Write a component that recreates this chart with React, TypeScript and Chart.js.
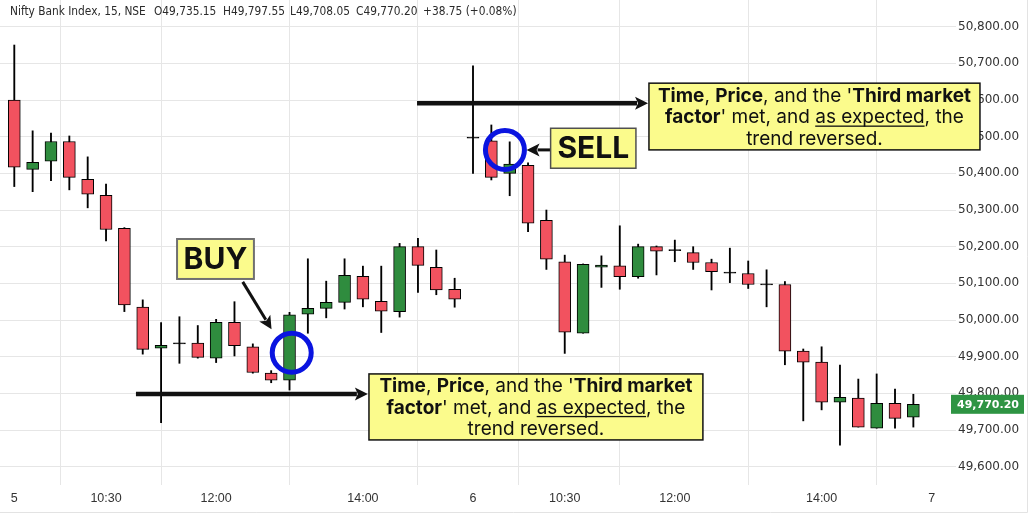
import { useEffect, useRef } from 'react';
import { Chart, registerables } from 'chart.js';

Chart.register(...registerables);

// ---- DATA (15-min candles, Nifty Bank Index) ----
const opens = [
  50600, 50411, 50433, 50487, 50384, 50340, 50250, 50035, 49923, 49938,
  49937, 49896, 49994, 49927, 49855, 49836, 50016, 50032, 50048, 50119,
  50051, 50023, 50200, 50144, 50084,
  50499, 50489, 50400, 50422, 50272, 50159, 49964, 50144, 50148, 50118,
  50200, 50192, 50184, 50157, 50131, 50127, 50099, 50097, 49915, 49885,
  49776, 49787, 49705, 49773, 49735.15,
];
const highs = [
  50750, 50516, 50510, 50502, 50445, 50371, 50252, 50055, 49993, 50009,
  49985, 50002, 50050, 49935, 49862, 50021, 50167, 50106, 50167, 50147,
  50147, 50209, 50223, 50191, 50114,
  50693, 50532, 50486, 50429, 50300, 50177, 50153, 50175, 50257, 50207,
  50202, 50218, 50200, 50166, 50196, 50161, 50137, 50105, 49921, 49927,
  49877, 49839, 49853, 49812, 49797.55,
];
const lows = [
  50364, 50350, 50380, 50355, 50306, 50216, 50023, 49907, 49720, 49882,
  49896, 49884, 49902, 49855, 49829, 49809, 49964, 50006, 50030, 50036,
  49966, 50008, 50075, 50069, 50035,
  50400, 50382, 50339, 50241, 50138, 49909, 49964, 50089, 50084, 50114,
  50123, 50159, 50138, 50082, 50102, 50086, 50036, 49878, 49725, 49755,
  49659, 49708, 49705, 49705, 49708.05,
];
const closes = [
  50417, 50430, 50487, 50389, 50343, 50247, 50041, 49920, 49931, 49935,
  49898, 49994, 49930, 49857, 49836, 50014, 50032, 50048, 50122, 50057,
  50024, 50200, 50149, 50082, 50057,
  50496, 50389, 50425, 50264, 50166, 49967, 50152, 50150, 50118, 50200,
  50188, 50189, 50157, 50132, 50128, 50097, 50096, 49915, 49885, 49776,
  49789, 49708, 49773, 49732, 49770.20,
];

const xTickIndex = [0, 5, 11, 19, 25, 30, 36, 44, 50];
const xTickLabels = ['5', '10:30', '12:00', '14:00', '6', '10:30', '12:00', '14:00', '7'];
const yTickValues = [49600, 49700, 49800, 49900, 50000, 50100, 50200, 50300, 50400, 50500, 50600, 50700, 50800];

const headerParts: [string, number][] = [
  ['Nifty Bank Index, 15, NSE', 10],
  ['O49,735.15', 154],
  ['H49,797.55', 223],
  ['L49,708.05', 290],
  ['C49,770.20', 356],
  ['+38.75 (+0.08%)', 423],
];

type Run = { t: string; b?: boolean; u?: boolean };
const noteLines: Run[][] = [
  [{ t: 'Time', b: true }, { t: ', ' }, { t: 'Price', b: true }, { t: ', and the \'' }, { t: 'Third market', b: true }],
  [{ t: 'factor', b: true }, { t: '\' met, and ' }, { t: 'as expected', u: true }, { t: ', the' }],
  [{ t: 'trend reversed.' }],
];

// annotation anchors in data coordinates (x = candle index, y = price)
const textBoxes = [
  { x0: 8.87, x1: 13.06, y0: 50221, y1: 50112, lines: [[{ t: 'BUY', b: true }]] as Run[][], size: 30, border: '#707070', bw: 2 },
  { x0: 29.23, x1: 33.88, y0: 50523, y1: 50414, lines: [[{ t: 'SELL', b: true }]] as Run[][], size: 30, border: '#505050', bw: 1.5 },
  { x0: 19.33, x1: 37.53, y0: 49853, y1: 49673, lines: noteLines, size: 19, border: '#111111', bw: 1.5 },
  { x0: 34.59, x1: 52.63, y0: 50646, y1: 50464, lines: noteLines, size: 19, border: '#111111', bw: 1.5 },
];
const arrows = [
  { xa: 12.45, ya: 50104, xb: 14.02, yb: 49975, w: 3 },
  { xa: 6.63, ya: 49798, xb: 19.27, yb: 49798, w: 4.5 },
  { xa: 21.95, ya: 50591, xb: 34.54, yb: 50591, w: 4.5 },
  { xa: 29.25, ya: 50464, xb: 27.92, yb: 50464, w: 3 },
];
const circles = [
  { x: 15.12, y: 49911 },
  { x: 26.74, y: 50464 },
];

const FONT_UI = '"Liberation Sans", Arial, sans-serif';
const FONT_AXIS = '"DejaVu Sans", Verdana, sans-serif';
const FONT_HEAD = '"DejaVu Sans Condensed", "DejaVu Sans", sans-serif';
const FONT_NOTE = 'Inter, "Open Sans", sans-serif';

function fontFor(b: boolean | undefined, size: number) {
  return `${b ? 'bold' : 'normal'} ${size}px ${FONT_NOTE}`;
}

const overlayPlugin = {
  id: 'overlay',
  afterDraw(chart: any) {
    const ctx: CanvasRenderingContext2D = chart.ctx;
    const xs = chart.scales.x;
    const ys = chart.scales.y;
    const px = (v: number) => xs.getPixelForValue(v);
    const py = (v: number) => ys.getPixelForValue(v);
    ctx.save();

    // header (font size fitted so the symbol text spans the same width as the reference)
    ctx.font = `12px ${FONT_HEAD}`;
    const w12 = ctx.measureText(headerParts[0][0]).width;
    const hs = Math.min(12.5, (12 * 136) / w12);
    ctx.fillStyle = '#2a2a2a';
    ctx.font = `${hs}px ${FONT_HEAD}`;
    ctx.textBaseline = 'middle';
    ctx.textAlign = 'left';
    headerParts.forEach(([t, x]) => ctx.fillText(t, x, 12));

    // last price label
    const lastY = py(closes[closes.length - 1]);
    ctx.fillStyle = '#2e9443';
    ctx.fillRect(951, lastY - 9.5, 73, 19);
    ctx.fillStyle = '#ffffff';
    ctx.font = `bold 11px ${FONT_AXIS}`;
    ctx.fillText('49,770.20', 957, lastY + 0.5);

    // arrows
    arrows.forEach((a) => {
      const x0 = px(a.xa), y0 = py(a.ya), x1 = px(a.xb), y1 = py(a.yb);
      const ang = Math.atan2(y1 - y0, x1 - x0);
      const L = 13, H = 6.5;
      const bx = x1 - Math.cos(ang) * L, by = y1 - Math.sin(ang) * L;
      ctx.strokeStyle = '#111';
      ctx.lineWidth = a.w;
      ctx.beginPath();
      ctx.moveTo(x0, y0);
      ctx.lineTo(bx + Math.cos(ang) * 2, by + Math.sin(ang) * 2);
      ctx.stroke();
      ctx.fillStyle = '#111';
      ctx.beginPath();
      ctx.moveTo(x1, y1);
      ctx.lineTo(bx - Math.sin(ang) * H, by + Math.cos(ang) * H);
      ctx.lineTo(bx + Math.cos(ang) * 3, by + Math.sin(ang) * 3);
      ctx.lineTo(bx + Math.sin(ang) * H, by - Math.cos(ang) * H);
      ctx.closePath();
      ctx.fill();
    });

    // circles
    circles.forEach((c) => {
      ctx.strokeStyle = '#0a14e0';
      ctx.lineWidth = 5;
      ctx.beginPath();
      ctx.arc(px(c.x), py(c.y), 19.5, 0, Math.PI * 2);
      ctx.stroke();
    });

    // text boxes
    textBoxes.forEach((bx) => {
      const l = px(bx.x0), r = px(bx.x1), t = py(bx.y0), b = py(bx.y1);
      ctx.fillStyle = '#fbfb8c';
      ctx.fillRect(l, t, r - l, b - t);
      ctx.strokeStyle = bx.border;
      ctx.lineWidth = bx.bw;
      ctx.strokeRect(l, t, r - l, b - t);
      const n = bx.lines.length;
      const lineH = n > 1 ? 21.5 : b - t;
      const top = (t + b) / 2 - (lineH * n) / 2;
      const cx = (l + r) / 2;
      ctx.fillStyle = '#111';
      ctx.textBaseline = 'middle';
      bx.lines.forEach((runs, li) => {
        const widths = runs.map((rn) => {
          ctx.font = fontFor(rn.b, bx.size);
          return ctx.measureText(rn.t).width;
        });
        const total = widths.reduce((s, w) => s + w, 0);
        let x = cx - total / 2;
        const y = top + lineH * (li + 0.5) + 1;
        runs.forEach((rn, i) => {
          ctx.font = fontFor(rn.b, bx.size);
          ctx.fillText(rn.t, x, y);
          if (rn.u) {
            ctx.fillRect(x, y + bx.size * 0.42, widths[i], 1.3);
          }
          x += widths[i];
        });
      });
    });

    // outer frame
    ctx.strokeStyle = '#e3e3e3';
    ctx.lineWidth = 1;
    ctx.beginPath();
    ctx.moveTo(1027.5, 0);
    ctx.lineTo(1027.5, 512.5);
    ctx.lineTo(0, 512.5);
    ctx.stroke();

    ctx.restore();
  },
};

export default function App() {
  const ref = useRef<HTMLCanvasElement>(null);
  useEffect(() => {
    document.body.style.margin = '0';
    const canvas = ref.current!;
    const idx = closes.map((_, i) => i);
    const bodyColors = idx.map((i) => {
      if (Math.abs(closes[i] - opens[i]) < 4) return '#000000';
      return closes[i] >= opens[i] ? '#2f8c3e' : '#f2525f';
    });
    const chart = new Chart(canvas, {
      type: 'bar',
      data: {
        datasets: [
          {
            label: 'body',
            data: idx.map((i) => ({ x: i, y: [opens[i], closes[i]] })) as any,
            backgroundColor: bodyColors,
            borderColor: '#000000',
            borderWidth: 1,
            borderSkipped: false,
            barThickness: 12,
            grouped: false,
          } as any,
          {
            label: 'wick',
            data: idx.map((i) => ({ x: i, y: [lows[i], highs[i]] })) as any,
            backgroundColor: '#000000',
            borderWidth: 0,
            barThickness: 1.2,
            grouped: false,
          } as any,
        ],
      },
      options: {
        responsive: false,
        animation: false,
        devicePixelRatio: 1,
        layout: { padding: 0 },
        plugins: { legend: { display: false }, tooltip: { enabled: false } },
        scales: {
          x: {
            type: 'linear',
            min: -0.779,
            max: 50.997,
            offset: false,
            border: { display: false },
            grid: { color: '#e6e6e6', drawTicks: false },
            ticks: {
              autoSkip: false,
              maxRotation: 0,
              padding: 6,
              color: '#333333',
              font: { family: FONT_UI, size: 12.5 },
              callback: (v: any) => {
                const k = xTickIndex.indexOf(Number(v));
                return k >= 0 ? xTickLabels[k] : '';
              },
            },
            afterBuildTicks: (s: any) => {
              s.ticks = xTickIndex.map((v) => ({ value: v }));
            },
            afterFit: (s: any) => {
              s.height = 33;
              s.paddingLeft = 0;
              s.paddingRight = 0;
            },
          } as any,
          y: {
            type: 'linear',
            position: 'right',
            min: 49550.1,
            max: 50872.8,
            border: { display: false },
            grid: { color: '#e6e6e6', drawTicks: true, tickLength: 6 },
            ticks: {
              padding: 2,
              color: '#333333',
              font: { family: FONT_AXIS, size: 12 },
              callback: (v: any) =>
                Number(v).toLocaleString('en-US', { minimumFractionDigits: 2, maximumFractionDigits: 2 }),
            },
            afterBuildTicks: (s: any) => {
              s.ticks = yTickValues.map((v) => ({ value: v }));
            },
            afterFit: (s: any) => {
              s.width = 81;
              s.paddingTop = 0;
              s.paddingBottom = 0;
            },
          } as any,
        },
      },
      plugins: [overlayPlugin],
    });
    return () => chart.destroy();
  }, []);
  return (
    <div style={{ width: 1031, height: 518, position: 'relative', background: '#ffffff' }}>
      <canvas ref={ref} width={1031} height={518} style={{ display: 'block' }} />
    </div>
  );
}
